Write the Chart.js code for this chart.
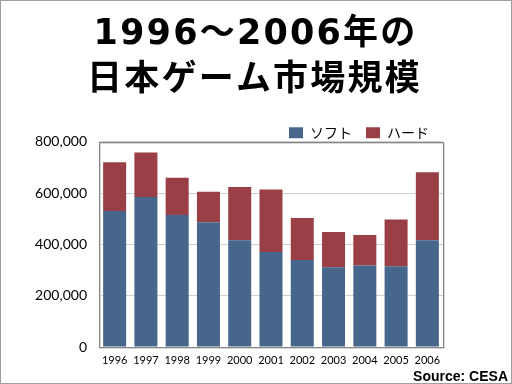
<!DOCTYPE html>
<html>
<head>
<meta charset="utf-8">
<script src="https://cdn.jsdelivr.net/npm/chart.js@4/dist/chart.umd.min.js"></script>
<style>
  html, body { margin: 0; padding: 0; background: #fff; }
  #wrap { width: 510px; height: 382px; border: 1px solid #a0a0a0; position: relative; }
  canvas { display: block; }
</style>
</head>
<body>
<div id="wrap"><canvas id="c" width="510" height="382"></canvas></div>
<script>
const titleLines = ['1996〜2006年の', '日本ゲーム市場規模'];
const years = ['1996','1997','1998','1999','2000','2001','2002','2003','2004','2005','2006'];
const software = [530000, 585000, 515000, 486000, 416000, 370000, 339000, 311000, 318000, 315000, 416000];
const hardware = [190000, 173000, 145000, 119000, 208000, 244000, 164000, 137000, 119000, 182000, 265000];
const seriesNames = ['ソフト', 'ハード'];
const sourceText = 'Source: CESA';

const framePlugin = {
  id: 'frame',
  beforeLayout(chart) {
    const lg = chart.legend;
    if (lg && !lg._patched) {
      const orig = lg.fit.bind(lg);
      lg.fit = function () { orig(); this.height -= 8; };
      lg._patched = true;
    }
    const tb = chart.titleBlock;
    if (tb && !tb._patched) {
      const od = tb.draw.bind(tb);
      tb.draw = function () {
        const ctx = this.ctx;
        const ft = ctx.fillText;
        ctx.fillText = function (t, x, y, mw) {
          if (t === titleLines[0]) {
            const ls = this.letterSpacing;
            this.letterSpacing = '2.2px';
            ft.call(this, t, x + 1, y, mw);
            this.letterSpacing = ls;
          } else {
            ft.call(this, t, x, y, mw);
          }
        };
        od();
        ctx.fillText = ft;
      };
      tb._patched = true;
    }
  },
  afterDatasetsDraw(chart) {
    const a = chart.chartArea, ctx = chart.ctx;
    ctx.save();
    ctx.strokeStyle = '#d8d8d8';
    ctx.lineWidth = 1;
    ctx.strokeRect(Math.round(a.left) + 1.5, Math.round(a.top) + 1.5, Math.round(a.right - a.left), Math.round(a.bottom - a.top));
    ctx.strokeStyle = '#858585';
    ctx.strokeRect(Math.round(a.left) + 0.5, Math.round(a.top) + 0.5, Math.round(a.right - a.left), Math.round(a.bottom - a.top));
    ctx.restore();
  }
};

new Chart(document.getElementById('c'), {
  type: 'bar',
  data: {
    labels: years,
    datasets: [
      { label: seriesNames[0], data: software, backgroundColor: '#46668c', borderWidth: 0 },
      { label: seriesNames[1], data: hardware, backgroundColor: '#9a3f45', borderWidth: 0 }
    ]
  },
  options: {
    responsive: false,
    animation: false,
    devicePixelRatio: 1,
    layout: { padding: { left: 0, right: 3, top: 0, bottom: 0 } },
    datasets: { bar: { categoryPercentage: 0.8, barPercentage: 0.92 } },
    scales: {
      x: {
        stacked: true,
        grid: { display: false, drawTicks: false },
        border: { display: false },
        ticks: { color: '#000', padding: 7, maxRotation: 0, minRotation: 0, autoSkip: false, font: { family: 'Lato', size: 11 } }
      },
      y: {
        stacked: true,
        min: 0, max: 800000,
        grid: { color: '#cfcfcf', drawTicks: false },
        border: { display: false },
        afterFit(s) { s.width = 98; },
        ticks: {
          stepSize: 200000, color: '#000', padding: 12,
          font: { family: 'Lato', size: 14 },
          callback: v => v.toLocaleString('en-US')
        }
      },
      y2: {
        type: 'linear', position: 'right', display: true,
        grid: { display: false, drawTicks: false },
        border: { display: false },
        ticks: { display: false },
        afterFit(s) { s.width = 65; }
      }
    },
    plugins: {
      title: {
        display: true,
        text: titleLines,
        color: '#000',
        font: { family: "'DejaVu Sans', 'Noto Sans CJK JP'", weight: 'bold', size: 35, lineHeight: 1.34 },
        padding: { top: 10, bottom: 7 }
      },
      legend: {
        display: true,
        position: 'top',
        align: 'end',
        fullSize: false,
        labels: {
          boxWidth: 14, boxHeight: 11, padding: 14, color: '#000',
          font: { family: 'Noto Sans CJK JP', size: 14 }
        }
      },
      subtitle: {
        display: true,
        text: sourceText,
        position: 'bottom',
        align: 'end',
        color: '#000',
        font: { family: 'Liberation Sans', weight: 'bold', size: 14, lineHeight: 1.2 },
        padding: { top: -5, bottom: -3 }
      },
      tooltip: { enabled: false }
    }
  },
  plugins: [framePlugin]
});
</script>
</body>
</html>
